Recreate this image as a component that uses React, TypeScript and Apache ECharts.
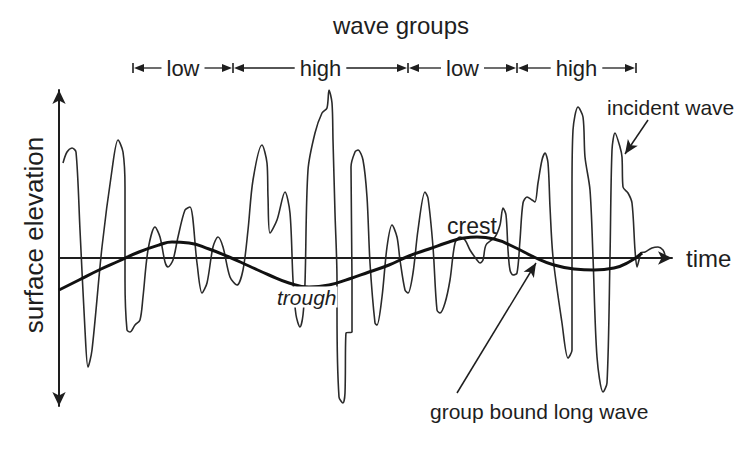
import React, { useEffect, useRef } from "react";
import * as echarts from "echarts";

// incident wave: time (px-like units) and surface elevation
const incidentT = [4, 8, 13, 17, 21, 26, 29, 33, 43, 53, 59, 64, 66, 66, 68, 71, 76, 81, 84, 89, 96, 101, 106, 109, 114, 119, 126, 131, 138, 143, 148, 154, 159, 164, 171, 178, 184, 189, 194, 203, 208, 209, 211, 218, 226, 231, 234, 237, 241, 244, 246, 249, 256, 263, 268, 270, 273, 274, 276, 278, 278, 280, 284, 286, 287, 293, 293, 292, 296, 299, 304, 308, 311, 316, 318, 323, 328, 333, 338, 341, 346, 349, 354, 359, 366, 369, 374, 378, 381, 386, 391, 396, 401, 406, 411, 418, 421, 424, 427, 436, 441, 444, 447, 449, 451, 454, 458, 461, 464, 468, 473, 476, 479, 483, 486, 489, 491, 494, 503, 509, 513, 513, 514, 519, 524, 526, 531, 534, 538, 544, 548, 551, 553, 556, 561, 563, 564, 569, 573, 576, 578, 580, 582, 586, 593, 599, 604, 606];
const incidentE = [95, 106, 110, 106, 28, -72, -109, -92, 11, 88, 118, 106, 71, -22, -72, -74, -67, -62, -39, 8, 31, 21, -4, -9, -2, 21, 48, 51, -5, -35, -25, 11, 21, 11, -19, -27, -12, 28, 78, 113, 95, 61, 25, 38, 66, 45, -22, -57, -69, -57, -25, 88, 125, 145, 150, 168, 155, 118, 45, -22, -55, -139, -145, -135, -75, -74, -22, 91, 106, 108, 98, 61, -5, -65, -67, -39, 11, 33, 21, -2, -32, -35, -15, 28, 66, 60, 11, -52, -55, -45, -22, 15, 21, 18, 8, -2, -5, -2, 13, 21, 33, 50, 43, 8, -12, -17, -15, 18, 55, 61, 58, 56, 75, 98, 105, 95, 51, 1, -65, -100, -92, 68, 128, 151, 141, 101, 68, 1, -99, -134, -125, 1, 108, 125, 111, 101, 71, 65, 55, 8, -9, -2, 5, 6, 10, 11, 8, 3];

// group bound long wave
const longT = [0, 20, 40, 60, 80, 100, 113, 130, 150, 170, 190, 210, 230, 250, 270, 290, 310, 330, 350, 370, 390, 405, 418, 435, 455, 475, 495, 515, 535, 555, 570, 583];
const longE = [-32, -22, -12, -3, 6, 13, 16, 15, 9, 1, -8, -17, -25, -29, -27, -21, -14, -7, 2, 9, 16, 20, 21, 19, 11, 1, -7, -11, -12, -10, -4, 5];

// wave group boundaries (time units) and labels
const groupBounds = [74, 174, 349, 458, 577];
const groupLabels = ["low", "high", "low", "high"];

const FONT = '"Liberation Sans", Arial, sans-serif';
const INK = "#1e1e1e";

export default function App() {
  const ref = useRef<HTMLDivElement>(null);
  useEffect(() => {
    if (!ref.current) return;
    const chart = echarts.init(ref.current, undefined, { renderer: "svg" });
    const incident = incidentT.map((t, i) => [t, incidentE[i]]);
    const longWave = longT.map((t, i) => [t, longE[i]]);
    chart.setOption({
      animation: false,
      backgroundColor: "#ffffff",
      grid: { left: 59, right: 71, top: 90, bottom: 44 },
      xAxis: {
        type: "value",
        min: 0,
        max: 613,
        name: "time",
        nameLocation: "end",
        nameGap: 14,
        nameTextStyle: { fontFamily: FONT, fontSize: 24, color: INK, verticalAlign: "middle", align: "left" },
        axisLine: { onZero: true, lineStyle: { color: INK, width: 2 }, symbol: ["none", "arrow"], symbolSize: [10, 14] },
        axisTick: { show: false },
        axisLabel: { show: false },
        splitLine: { show: false },
      },
      yAxis: {
        type: "value",
        min: -148,
        max: 168,
        name: "surface elevation",
        nameLocation: "middle",
        nameRotate: 90,
        nameGap: 12,
        nameTextStyle: { fontFamily: FONT, fontSize: 26, color: INK, padding: [0, 0, 0, 26] },
        axisLine: { show: true, lineStyle: { color: INK, width: 2 }, symbol: ["arrow", "arrow"], symbolSize: [10, 14] },
        axisTick: { show: false },
        axisLabel: { show: false },
        splitLine: { show: false },
      },
      series: [
        {
          type: "line",
          name: "incident wave",
          data: incident,
          showSymbol: false,
          smooth: 0.3,
          lineStyle: { color: "#2a2a2a", width: 1.6 },
          silent: true,
          z: 3,
        },
        {
          type: "line",
          name: "group bound long wave",
          data: longWave,
          showSymbol: false,
          smooth: true,
          lineStyle: { color: "#111", width: 3 },
          silent: true,
          z: 4,
          markLine: {
            silent: true,
            symbol: ["none", "arrow"],
            symbolSize: [9, 14],
            label: { show: false },
            lineStyle: { color: INK, width: 1.5, type: "solid" },
            data: [
              [{ coord: [589, 138] }, { coord: [566, 104] }],
              [{ coord: [398, -135] }, { coord: [477, -5] }],
            ],
          },
        },
      ],
    });

    const px = (t: number, e: number) => chart.convertToPixel({ gridIndex: 0 }, [t, e]) as number[];
    const rowY = 68;
    const ctx = document.createElement("canvas").getContext("2d")!;
    ctx.font = `22px ${FONT}`;
    const g: any[] = [];
    const bx = groupBounds.map((b) => px(b, 0)[0]);
    bx.forEach((x) => {
      g.push({ type: "line", shape: { x1: x, y1: rowY - 5, x2: x, y2: rowY + 5 }, style: { stroke: INK, lineWidth: 1.6 }, z: 100 });
    });
    for (let i = 0; i < groupLabels.length; i++) {
      const a = bx[i], b = bx[i + 1];
      const m = (a + b) / 2;
      const w = ctx.measureText(groupLabels[i]).width;
      g.push({ type: "text", x: m, y: rowY, style: { text: groupLabels[i], font: `22px ${FONT}`, fill: INK, align: "center", verticalAlign: "middle" }, z: 100 });
      g.push({ type: "line", shape: { x1: a + 8, y1: rowY, x2: m - w / 2 - 5, y2: rowY }, style: { stroke: INK, lineWidth: 1.3 }, z: 100 });
      g.push({ type: "line", shape: { x1: m + w / 2 + 5, y1: rowY, x2: b - 8, y2: rowY }, style: { stroke: INK, lineWidth: 1.3 }, z: 100 });
      g.push({ type: "polygon", shape: { points: [[a + 1, rowY], [a + 11, rowY - 4], [a + 11, rowY + 4]] }, style: { fill: INK }, z: 100 });
      g.push({ type: "polygon", shape: { points: [[b - 1, rowY], [b - 11, rowY - 4], [b - 11, rowY + 4]] }, style: { fill: INK }, z: 100 });
    }
    g.push({ type: "text", x: 401, y: 25, style: { text: "wave groups", font: `24px ${FONT}`, fill: INK, align: "center", verticalAlign: "middle" }, z: 100 });
    g.push({ type: "text", x: 607, y: 107, style: { text: "incident wave", font: `21px ${FONT}`, fill: INK, align: "left", verticalAlign: "middle" }, z: 100 });
    g.push({ type: "text", x: 430, y: 411, style: { text: "group bound long wave", font: `21px ${FONT}`, fill: INK, align: "left", verticalAlign: "middle" }, z: 100 });
    g.push({ type: "text", x: 447, y: 226, style: { text: "crest", font: `23px ${FONT}`, fill: INK, align: "left", verticalAlign: "middle" }, z: 100 });
    g.push({ type: "text", x: 276, y: 297, style: { text: "trough", font: `italic 21px ${FONT}`, fill: INK, align: "left", verticalAlign: "middle", backgroundColor: "#fff", padding: [0, 1] }, z: 100 });
    chart.setOption({ graphic: g });

    return () => chart.dispose();
  }, []);
  return <div ref={ref} style={{ position: "fixed", left: 0, top: 0, width: 743, height: 450 }} />;
}
